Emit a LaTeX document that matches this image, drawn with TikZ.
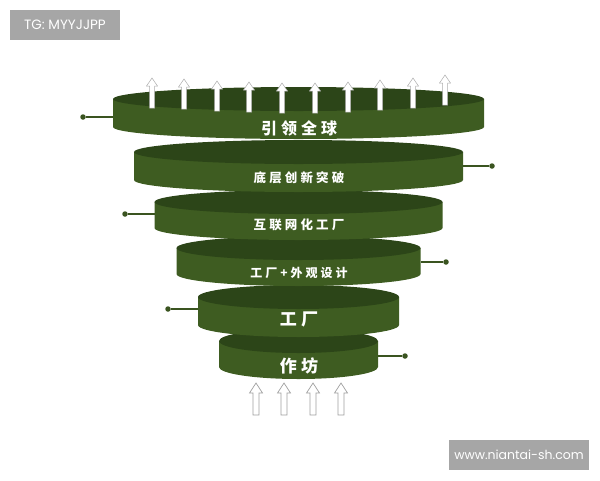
\documentclass[tikz,border=0pt]{standalone}
\usepackage{fontspec}
\setmainfont{Liberation Sans}
\newfontfamily\cjk{Noto Sans CJK SC}[LetterSpace=25]
\newfontfamily\wmfont{Poppins}
\definecolor{topg}{HTML}{2C4518}
\definecolor{sideg}{HTML}{3E5C21}
\definecolor{lineg}{HTML}{3A5420}
\definecolor{wmgray}{HTML}{A6A6A6}
\newcommand\mydisc[4]{%
  \fill[sideg] (#1-#3,#2) -- (#1-#3,#2+#4) arc[start angle=180,end angle=360,x radius=#3pt,y radius=12pt] -- (#1+#3,#2) -- cycle;
  \fill[topg] (#1,#2) ellipse[x radius=#3pt,y radius=12pt];
}
\tikzset{
  lbl/.style={text=white,font=\cjk\bfseries,inner sep=0pt},
  conn/.style={draw=lineg,line width=1.2pt},
  dotn/.style={circle,fill=lineg,inner sep=0pt,minimum size=5.5pt},
  wmbox/.style={fill=wmgray,text=white,font=\wmfont,inner sep=0pt},
  uparr/.pic={\filldraw[fill=white,draw=gray!65,line width=0.5pt] (-2.5,0) -- (-2.5,-22) -- (-5.5,-22) -- (0,-30) -- (5.5,-22) -- (2.5,-22) -- (2.5,0) -- cycle;},
  botarr/.pic={\filldraw[fill=white,draw=gray!75,line width=0.7pt] (-3,0) -- (-3,-22) -- (-6.5,-22) -- (0,-32) -- (6.5,-22) -- (3,-22) -- (3,0) -- cycle;}
}
\begin{document}
\begin{tikzpicture}[x=1pt,y=-1pt]
\useasboundingbox (0,0) rectangle (600,480);
% watermarks
\node[wmbox,minimum width=110pt,minimum height=30pt,font=\wmfont\fontsize{13.5}{15}\selectfont] (wm1) at (65,25) {TG: MYYJJPP};
\node[wmbox,minimum width=140pt,minimum height=30pt,font=\wmfont\fontsize{12.5}{14}\selectfont] (wm2) at (519,455) {www.niantai-sh.com};
% connectors
\node[dotn] (d1) at (83,117) {};   \coordinate (e1) at (113,117);
\node[dotn] (d2) at (492,166) {};  \coordinate (e2) at (463,166);
\node[dotn] (d3) at (125,214) {};  \coordinate (e3) at (155,214);
\node[dotn] (d4) at (446,262) {};  \coordinate (e4) at (421,262);
\node[dotn] (d5) at (168,309) {};  \coordinate (e5) at (198,309);
\node[dotn] (d6) at (405,356) {};  \coordinate (e6) at (378,356);
\foreach \i in {1,...,6} {\draw[conn] (d\i) -- (e\i);}
% discs, bottom to top
\mydisc{298.5}{341}{79.5}{26}
\node[lbl,font=\cjk\bfseries\fontsize{17}{17}\selectfont] (t6) at (299,366) {作坊};
\mydisc{298.5}{297}{100.5}{28}
\node[lbl,font=\cjk\bfseries\fontsize{17}{17}\selectfont] (t5) at (299,319) {工厂};
\mydisc{298.5}{248}{122}{26}
\node[lbl,font=\cjk\bfseries\fontsize{12}{12}\selectfont] (t4) at (299,273) {工厂+外观设计};
\mydisc{298.5}{202}{144}{26}
\node[lbl,font=\cjk\bfseries\fontsize{12.5}{12.5}\selectfont] (t3) at (299,225) {互联网化工厂};
\mydisc{298.5}{152}{164.5}{28}
\node[lbl,font=\cjk\bfseries\fontsize{12.5}{12.5}\selectfont] (t2) at (299,178) {底层创新突破};
\mydisc{298.5}{99}{185.5}{28}
\node[lbl,font=\cjk\bfseries\fontsize{16}{16}\selectfont] (t1) at (299,128) {引领全球};
% top arrows
\foreach \x/\y in {152/108,184/109,217/111,249/112,282/113,315/113,348/112,380/110,413/108,445/105}
  {\pic at (\x,\y) {uparr};}
% bottom arrows
\foreach \x in {256,284,313,341}
  {\pic at (\x,415) {botarr};}
\end{tikzpicture}
\end{document}
